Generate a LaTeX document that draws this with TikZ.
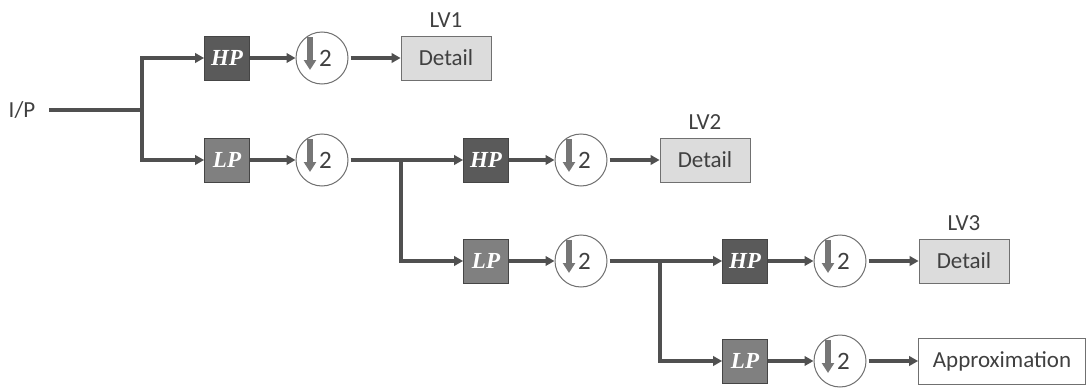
\documentclass[tikz,border=0pt]{standalone}
\usepackage{fontspec}
\setmainfont{Carlito}
\newfontfamily\hpfont{Liberation Serif}
\usetikzlibrary{arrows.meta}
\definecolor{linegray}{HTML}{505050}
\definecolor{textgray}{HTML}{404040}
\definecolor{hpfill}{HTML}{5A5A5A}
\definecolor{lpfill}{HTML}{808080}
\definecolor{boxedge}{HTML}{454545}
\definecolor{detfill}{HTML}{DCDCDC}
\definecolor{circgray}{HTML}{707070}
\definecolor{arrowgray}{HTML}{767676}
\begin{document}
\begin{tikzpicture}[x=1pt,y=-1pt,
  font=\fontsize{23}{27}\selectfont,
  conn/.style={draw=linegray, line width=3.2pt},
  arr/.style={conn, -{Triangle[length=9pt,width=9.5pt]}},
  hpbox/.style={draw=boxedge, line width=0.8pt, fill=hpfill, minimum width=45pt, minimum height=44pt, inner sep=0pt, text=white, font=\fontsize{23}{27}\hpfont\bfseries\itshape},
  lpbox/.style={hpbox, fill=lpfill},
  dsbox/.style={circle, draw=circgray, line width=1pt, fill=white, minimum size=52pt, inner sep=0pt, text=textgray, font=\fontsize{25}{28}\selectfont,
    path picture={\draw[line width=6.5pt, draw=arrowgray, -{Triangle[length=10pt,width=12pt]}]
      ([xshift=-12pt,yshift=21pt]path picture bounding box.center) --
      ([xshift=-12pt,yshift=-12pt]path picture bounding box.center);}},
  detbox/.style={draw=circgray, line width=0.8pt, fill=detfill, minimum width=90pt, minimum height=44pt, inner sep=0pt, text=textgray},
  appbox/.style={draw=circgray, line width=0.8pt, fill=white, minimum width=167pt, minimum height=46pt, inner sep=0pt, text=textgray},
  lvlabel/.style={text=textgray, inner sep=0pt}
]
\useasboundingbox[fill=white] (0,0) rectangle (1088,388);

% input
\node[lvlabel] (ip) at (22,110) {I/P};
\coordinate (j1) at (142,110);

% level 1
\node[hpbox] (hp1) at (227,58) {HP};
\node[dsbox] (d1) at (322,58) {\hspace*{7pt}2};
\node[detbox] (det1) at (446,58) {Detail};
\node[lvlabel] (lv1) at (446,20) {LV1};
\node[lpbox] (lp1) at (227,160) {LP};
\node[dsbox] (d2) at (322,160) {\hspace*{7pt}2};

% level 2
\coordinate (j2) at (401,160);
\node[hpbox] (hp2) at (486,160) {HP};
\node[dsbox] (d3) at (581,160) {\hspace*{7pt}2};
\node[detbox] (det2) at (705,160) {Detail};
\node[lvlabel] (lv2) at (705,122) {LV2};
\node[lpbox] (lp2) at (486,261) {LP};
\node[dsbox] (d4) at (581,261) {\hspace*{7pt}2};

% level 3
\coordinate (j3) at (660,261);
\node[hpbox] (hp3) at (745,261) {HP};
\node[dsbox] (d5) at (840,261) {\hspace*{7pt}2};
\node[detbox] (det3) at (964,261) {Detail};
\node[lvlabel] (lv3) at (964,223) {LV3};
\node[lpbox] (lp3) at (745,361) {LP};
\node[dsbox] (d6) at (840,361) {\hspace*{7pt}2};
\node[appbox] (app) at (1002,361) {Approximation};

% connectors
\draw[conn, shorten <=14pt] (ip) -- (j1);
\draw[arr] (j1) |- (hp1);
\draw[arr] (j1) |- (lp1);
\draw[arr] (hp1) -- (d1);
\draw[arr, shorten <=2pt] (d1) -- (det1);
\draw[arr] (lp1) -- (d2);
\draw[arr, shorten <=2pt] (d2) -- (hp2);
\draw[arr] (j2) |- (lp2);
\draw[arr] (hp2) -- (d3);
\draw[arr, shorten <=2pt] (d3) -- (det2);
\draw[arr] (lp2) -- (d4);
\draw[arr, shorten <=2pt] (d4) -- (hp3);
\draw[arr] (j3) |- (lp3);
\draw[arr] (hp3) -- (d5);
\draw[arr, shorten <=2pt] (d5) -- (det3);
\draw[arr] (lp3) -- (d6);
\draw[arr, shorten <=2pt] (d6) -- (app);
\end{tikzpicture}
\end{document}
